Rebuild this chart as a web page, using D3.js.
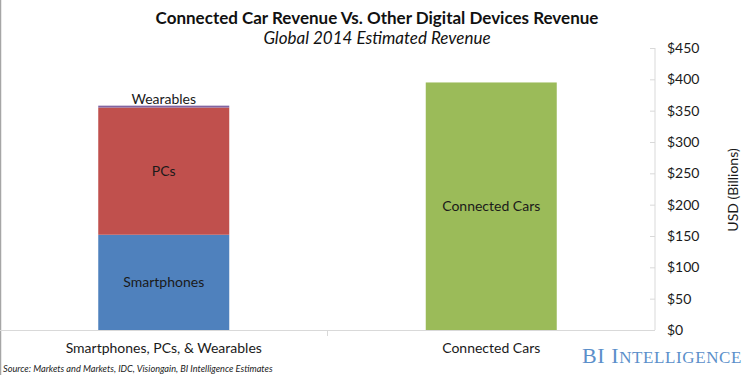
<!DOCTYPE html>
<html><head><meta charset="utf-8">
<script src="https://cdn.jsdelivr.net/npm/d3@7"></script>
<style>
html,body{margin:0;padding:0;background:#fff;}
svg{display:block;font-family:Lato,"Open Sans",sans-serif;}
</style></head><body>
<svg id="chart" width="750" height="375"></svg>
<script>
const categories = ["Smartphones, PCs, & Wearables", "Connected Cars"];
const seriesNames = ["Smartphones", "PCs", "Wearables", "Connected Cars"];
const smartphones = [152, 0];
const pcs = [203, 0];
const wearables = [3, 0];
const connectedCars = [0, 395];
const yTicks = [0, 50, 100, 150, 200, 250, 300, 350, 400, 450];
const colors = ["#4f81bd", "#c0504d", "#8064a2", "#9bbb59"];

const svg = d3.select("#chart");
const axisX = 655, baseY = 330, topY = 48;

const x = d3.scaleBand().domain(categories).range([0, axisX]).paddingInner(0.6).paddingOuter(0.3);
const y = d3.scaleLinear().domain([0, 450]).range([baseY, topY]);

// border
svg.append("line").attr("x1",0.5).attr("x2",0.5).attr("y1",0).attr("y2",375).attr("stroke","#a6a6a6").attr("stroke-width",1.5);

// data table
const table = categories.map((c,i)=>({cat:c, Smartphones:smartphones[i], PCs:pcs[i], Wearables:wearables[i], "Connected Cars":connectedCars[i]}));
const stack = d3.stack().keys(seriesNames)(table);

stack.forEach((layer, li) => {
  svg.append("g").selectAll("rect").data(layer.filter(d => d[1]-d[0] > 0)).join("rect")
    .attr("x", d => x(d.data.cat))
    .attr("width", x.bandwidth())
    .attr("y", d => y(d[1]))
    .attr("height", d => y(d[0]) - y(d[1]))
    .attr("fill", colors[li]);
});

// segment labels
stack.forEach((layer, li) => {
  layer.filter(d => d[1]-d[0] > 0).forEach(d => {
    const cx = x(d.data.cat) + x.bandwidth()/2;
    let cy;
    if (seriesNames[li] === "Wearables") cy = y(d[1]) - 2;
    else cy = (y(d[0]) + y(d[1]))/2 + 5;
    svg.append("text").attr("x", cx).attr("y", cy).attr("text-anchor","middle")
      .attr("font-size", 14).attr("fill","#1a1a1a").text(seriesNames[li]);
  });
});

// x baseline and divider
svg.append("line").attr("x1",0).attr("x2",axisX).attr("y1",baseY+0.5).attr("y2",baseY+0.5).attr("stroke","#d9d9d9");
const boundary = (x(categories[0]) + x.bandwidth() + x(categories[1]))/2;
svg.append("line").attr("x1",boundary).attr("x2",boundary).attr("y1",baseY).attr("y2",baseY+6).attr("stroke","#d9d9d9");
categories.forEach(c => {
  svg.append("text").attr("x", x(c)+x.bandwidth()/2).attr("y", 353).attr("text-anchor","middle")
    .attr("font-size",14).attr("fill","#1a1a1a").text(c);
});

// right axis
const yAxis = d3.axisRight(y).tickValues(yTicks).tickSize(-5).tickPadding(12).tickFormat(d => "$" + d);
const ga = svg.append("g").attr("transform", `translate(${axisX},0)`).call(yAxis);
ga.select(".domain").attr("stroke","#d9d9d9").attr("d", `M0,${topY}V${baseY}`);
ga.selectAll(".tick line").attr("stroke","#d9d9d9");
ga.selectAll(".tick text").attr("font-size",14).attr("font-family","Lato,sans-serif").attr("fill","#1a1a1a");

svg.append("text").attr("transform","translate(738,190) rotate(-90)").attr("text-anchor","middle")
  .attr("font-size",14).attr("fill","#1a1a1a").text("USD (Billions)");

// titles
svg.append("text").attr("x",377).attr("y",24).attr("text-anchor","middle").attr("font-size",17).attr("font-weight","bold").attr("fill","#111").text("Connected Car Revenue Vs. Other Digital Devices Revenue");
svg.append("text").attr("x",377).attr("y",44).attr("text-anchor","middle").attr("font-size",17).attr("font-style","italic").attr("fill","#111").text("Global 2014 Estimated Revenue");

// source
svg.append("text").attr("x",3).attr("y",372).attr("font-size",9.2).attr("font-style","italic").attr("fill","#222").text("Source: Markets and Markets, IDC, Visiongain, BI Intelligence Estimates");

// logo
const logo = svg.append("text").attr("x",582).attr("y",363).attr("font-family","'Liberation Serif','DejaVu Serif',serif").attr("fill","#5b8fca").attr("letter-spacing",0.6);
logo.append("tspan").attr("font-size",22).text("BI I");
logo.append("tspan").attr("font-size",17).text("NTELLIGENCE");
</script>
</body></html>
